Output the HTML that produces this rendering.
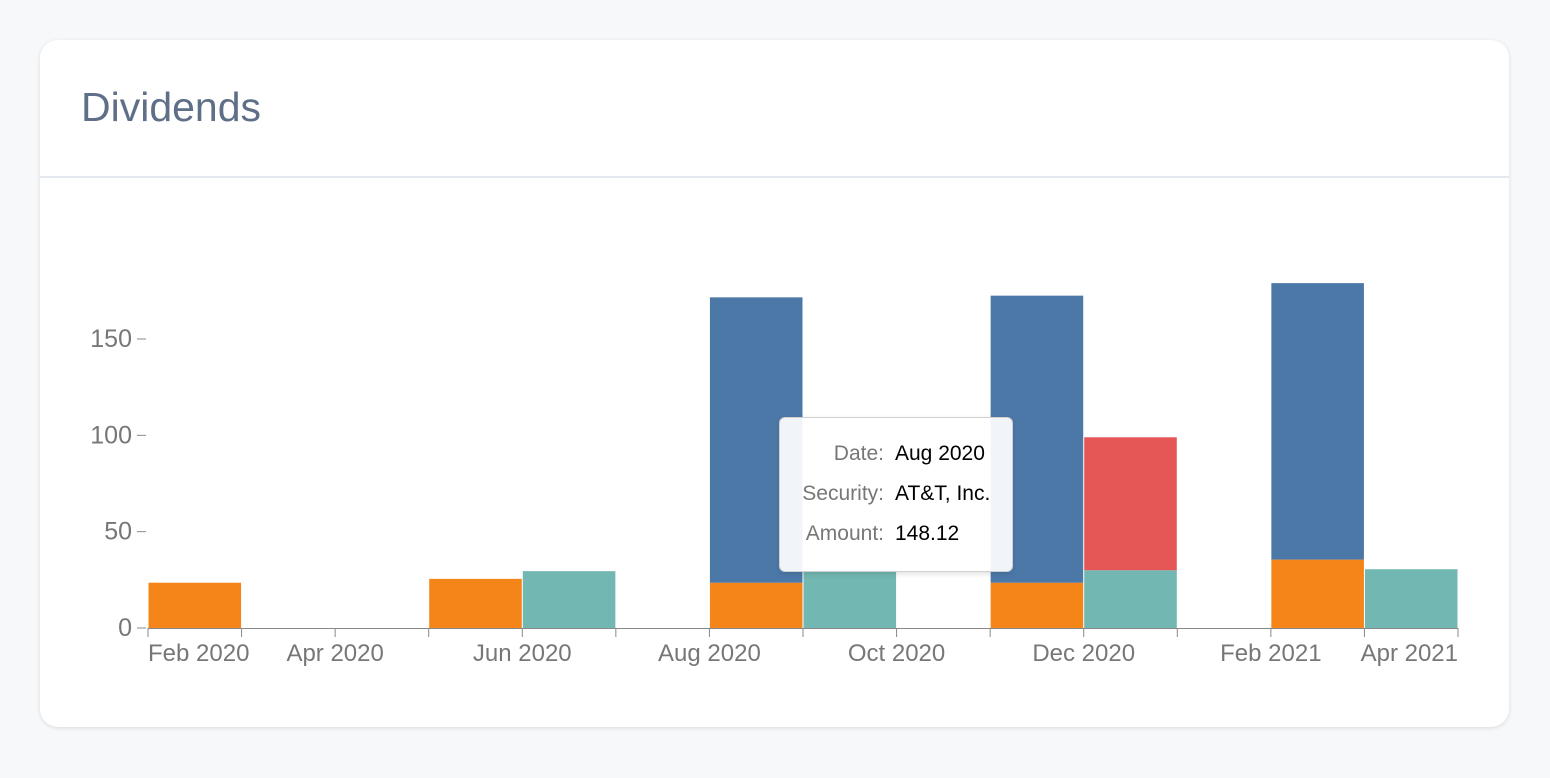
<!DOCTYPE html>
<html><head><meta charset="utf-8">
<style>
body{margin:0;background:#f7f8fa;font-family:"Liberation Sans",sans-serif;}
#card{position:absolute;left:40px;top:40px;width:1469px;height:687px;background:#fff;border-radius:18px;box-shadow:0 1px 4px rgba(0,0,0,0.12);}
#title{position:absolute;left:41px;top:44px;font-size:41px;color:#5f6f88;}
#divider{position:absolute;left:0;top:136px;width:1469px;height:2px;background:#e3e8ef;}
#tip{position:absolute;left:779px;top:417px;width:232px;height:153px;background:rgba(255,255,255,0.92);border:1px solid #d0d0d0;border-radius:6px;box-shadow:0 2px 6px rgba(0,0,0,0.12);font-size:21px;}
.row{position:absolute;left:0;width:100%;}
.k{position:absolute;right:128px;color:#777;text-align:right;white-space:nowrap;}
.v{position:absolute;left:115px;color:#000;white-space:nowrap;}
</style></head><body>
<div id="card">
<div id="title">Dividends</div>
<div id="divider"></div>
</div>
<svg id="chart" width="1550" height="778" style="position:absolute;left:0;top:0"></svg>
<div id="tip">
<div class="row" style="top:24px"><span class="k">Date:</span><span class="v">Aug 2020</span></div>
<div class="row" style="top:64px"><span class="k">Security:</span><span class="v">AT&amp;T, Inc.</span></div>
<div class="row" style="top:104px"><span class="k">Amount:</span><span class="v">148.12</span></div>
</div>
<script>
const months = [0,3,4,6,7,9,10,12,13]; // month index from Feb 2020
const orangeVals = [23.5,25.5,0,23.5,0,23.5,0,35.5,0];
const tealVals = [0,0,29.5,0,29.5,0,30,0,30.5];
const blueVals = [0,0,0,148.12,0,149,0,143.5,0];
const redVals = [0,0,0,0,0,0,69,0,0];
const yTicks = [0,50,100,150];
const xLabels = ["Feb 2020","Apr 2020","Jun 2020","Aug 2020","Oct 2020","Dec 2020","Feb 2021","Apr 2021"];
const xLabelMonths = [0,2,4,6,8,10,12,14];

const NS="http://www.w3.org/2000/svg";
const svg=document.getElementById('chart');
const x0=148,x1=1458,nM=14;
const xs=m=>x0+(x1-x0)*m/nM;
const ys=v=>628-v*(628-339)/150;
function el(t,a){const e=document.createElementNS(NS,t);for(const k in a)e.setAttribute(k,a[k]);svg.appendChild(e);return e;}
const series=[["orange",orangeVals,"#f58518"],["teal",tealVals,"#72b7b2"],["blue",blueVals,"#4c78a8"],["red",redVals,"#e45756"]];
months.forEach((m,i)=>{
  let base=0;
  series.forEach(([n,arr,c])=>{
    const v=arr[i]; if(!v)return;
    const r=el('rect',{x:xs(m)+0.5,y:ys(base+v),width:xs(m+1)-xs(m)-1,height:ys(base)-ys(base+v),fill:c});
    
    
    base+=v;
  });
});
yTicks.forEach(t=>{
  const l=el('line',{x1:137,x2:146,y1:ys(t),y2:ys(t),stroke:'#888','stroke-width':1});
  
  
  const tx=el('text',{x:132,y:ys(t)+8,'text-anchor':'end','font-size':25,fill:'#777','font-family':'Liberation Sans, sans-serif'});
  tx.textContent=t;
  
  
});
const ax=el('line',{x1:x0,x2:x1,y1:628.5,y2:628.5,stroke:'#888','stroke-width':1});


for(let m=0;m<=nM;m++){
  const t=el('line',{x1:xs(m),x2:xs(m),y1:628,y2:637,stroke:'#888','stroke-width':1});
  
  
}
xLabels.forEach((s,i)=>{
  let x=xs(xLabelMonths[i]),anchor='middle';
  if(i===0){anchor='start';}
  if(i===xLabels.length-1){anchor='end';}
  const tx=el('text',{x:x,y:661,'text-anchor':anchor,'font-size':24,fill:'#777','font-family':'Liberation Sans, sans-serif'});
  tx.textContent=s;
  
  
});
</script>
</body></html>
